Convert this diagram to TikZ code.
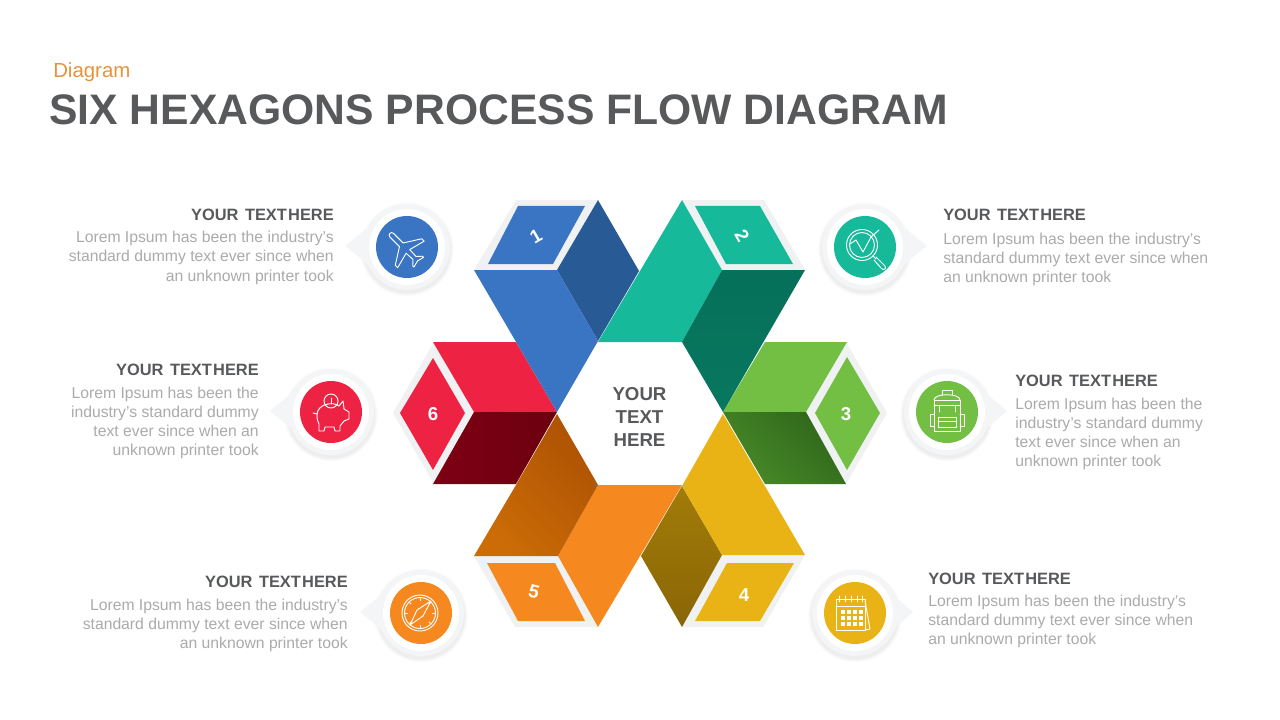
\documentclass[tikz,border=0pt]{standalone}
\usepackage{fontspec}
\setmainfont{Liberation Sans}
\usetikzlibrary{calc}
\definecolor{ttl}{HTML}{58595B}
\definecolor{bodyc}{HTML}{ABABAB}
\definecolor{orng}{HTML}{E8923A}
\definecolor{frm}{HTML}{F0F1F2}
\definecolor{bub}{HTML}{F4F5F6}
\definecolor{cb}{HTML}{3A75C4}\definecolor{cbd}{HTML}{285A96}
\definecolor{ct}{HTML}{16BA9B}\definecolor{ctd}{HTML}{06705A}\definecolor{ctf}{HTML}{08785F}
\definecolor{cg}{HTML}{72BF44}\definecolor{cgd}{HTML}{488A28}\definecolor{cgf}{HTML}{2F661A}
\definecolor{cy}{HTML}{EAB315}\definecolor{cyd}{HTML}{A17C08}\definecolor{cyf}{HTML}{8A6506}
\definecolor{co}{HTML}{F68820}\definecolor{cod}{HTML}{CB6C06}\definecolor{cof}{HTML}{AE5204}
\definecolor{cr}{HTML}{EE2344}\definecolor{crd}{HTML}{7E0014}\definecolor{crf}{HTML}{6C000F}
\tikzset{
 head/.style={font=\bfseries\fontsize{12.3}{14}\selectfont,text=ttl,inner sep=0pt},
 lorem/.style={font=\fontsize{11.8}{14}\selectfont,text=bodyc,inner sep=0pt},
 numlab/.style={font=\bfseries\fontsize{14}{16}\selectfont,text=white,inner sep=0pt},
 icon/.style={draw=white,line width=0.7pt,line join=round,line cap=round,fill=none}
}
\newcommand{\bubble}[4]{% cx, cy, tipx, colour
 \foreach \r/\o in {47/0.012,46/0.014,45/0.018,44/0.02}{\fill[black,opacity=\o] (#1,#2+2.5) circle (\r);}
 \fill[bub] (#1,#2) circle (43);
 \fill[bub] (#3,#2-1) -- ($(#1,#2-22)!0.58!(#3,#2-22)$) -- ($(#1,#2+20)!0.58!(#3,#2+20)$) -- cycle;
 \fill[white] (#1,#2) circle (38);
 \fill[#4] (#1,#2) circle (31);
}
\newcommand{\ytitle}{YOUR\hspace{1.5pt} TEXT\hspace{-2.5pt} HERE}
\begin{document}
\begin{tikzpicture}[x=0.75pt,y=-0.75pt]
\useasboundingbox (0,0) rectangle (1280,720);
\fill[white] (0,0) rectangle (1280,720);
% titles
\node[anchor=base west,text=orng,inner sep=0pt,font=\fontsize{15.3}{18}\selectfont] (sub) at (53,78) {Diagram};
\node[anchor=base west,text=ttl,inner sep=0pt,font=\bfseries\fontsize{32}{36}\selectfont] (title) at (49,125) {SIX HEXAGONS PROCESS FLOW DIAGRAM};
% frames
\fill[frm] (474,270)--(516,200)--(598,200)--(557,270)--cycle;
\fill[frm] (682,200)--(764,200)--(805,270)--(722,270)--cycle;
\fill[frm] (846,342)--(887,413)--(846,484)--(805,413)--cycle;
\fill[frm] (722,555)--(805,555)--(763,627)--(682,627)--cycle;
\fill[frm] (474,556)--(558,556)--(598,627)--(515,627)--cycle;
\fill[frm] (434,342)--(475,413)--(434,484)--(393,413)--cycle;
% inner faces
\fill[cb] (488,264)--(518,206)--(585,206)--(553,264)--cycle;
\fill[ct] (695,206)--(760,206)--(793,264)--(726,264)--cycle;
\fill[cg] (847,357)--(880,413)--(847,470)--(815,413)--cycle;
\fill[cy] (727,563)--(794,563)--(760,621)--(695,621)--cycle;
\fill[co] (487,563)--(555,563)--(585,621)--(518,621)--cycle;
\fill[cr] (433,358)--(465,413)--(433,470)--(400,413)--cycle;
% red
\fill[cr] (433,342)--(516,342)--(557,412)--(474,412)--cycle;
\shade[left color=crd,right color=crf] (474,412)--(557,412)--(516,484)--(433,484)--cycle;
% green
\fill[cg] (723,412)--(765,342)--(847,342)--(806,412)--cycle;
\shade[left color=cgd,right color=cgf,shading angle=135] (723,412)--(806,412)--(846,484)--(765,484)--cycle;
% blue
\fill[cbd] (598,200)--(639,271)--(598,341)--(557,270)--cycle;
\fill[cb] (474,270)--(557,270)--(598,341)--(557,412)--cycle;
% teal
\fill[ct] (682,200)--(722,270)--(682,342)--(598,342)--cycle;
\shade[top color=ctd,bottom color=ctf] (722,270)--(805,270)--(723,412)--(682,342)--cycle;
% yellow
\shade[top color=cyd,bottom color=cyf] (682,486)--(722,555)--(682,627)--(641,556)--cycle;
\fill[cy] (723,414)--(805,555)--(722,555)--(682,486)--cycle;
% orange
\fill[co] (598,485)--(682,485)--(598,627)--(558,556)--cycle;
\shade[left color=cod,right color=cof,shading angle=135] (557,414)--(598,485)--(558,556)--(474,556)--(516,485)--cycle;
% centre
\node[font=\bfseries\fontsize{14}{17}\selectfont,text=ttl,align=center,inner sep=0pt] (centre) at (639.5,417) {YOUR\\TEXT\\HERE};
% numbers
\node[numlab,rotate=30] (n1) at (536,236) {1};
\node[numlab,rotate=-60] (n2) at (742,236) {2};
\node[numlab] (n3) at (846,414) {3};
\node[numlab] (n4) at (744,595) {4};
\node[numlab,rotate=-15] (n5) at (534,592) {5};
\node[numlab] (n6) at (433,414) {6};
% bubbles
\bubble{407}{247}{345}{cb}
\bubble{865}{247}{927}{ct}
\bubble{331}{412}{270}{cr}
\bubble{947}{412}{1007}{cg}
\bubble{421}{613}{360}{co}
\bubble{855}{613}{913}{cy}
% plane
\begin{scope}[shift={(405.5,249)},rotate=45,scale=0.85]
\draw[icon] (-3,-23) .. controls (-3,-27) and (3,-27) .. (3,-23) -- (3,-7) -- (22,5) -- (22,9) -- (3,4) -- (2.5,15) -- (8,20) -- (8,22) -- (0,20) -- (-8,22) -- (-8,20) -- (-2.5,15) -- (-3,4) -- (-22,9) -- (-22,5) -- (-3,-7) -- cycle;
\end{scope}
% magnifier
\begin{scope}[shift={(862,245)}]
\draw[icon] (0,0) circle (15.5);
\draw[icon] (0,0) circle (12.5);
\draw[icon] (11,11) -- (14,14);
\draw[icon] (14,12) -- (23,21) .. controls (25,24) and (21,26) .. (19,23) -- (12,15);
\draw[icon] (-12,-1) -- (-6,-5) -- (1,7) -- (9,-8) -- (17,-15);
\end{scope}
% piggy
\begin{scope}[shift={(331,414)}]
\draw[icon] (-14,1) .. controls (-14,-10) and (2,-13) .. (8,-8) -- (12,-13) -- (13,-5) -- (18,-2) -- (18,5) -- (13,7) -- (9,12) -- (9,17) -- (4,17) -- (3,13) -- (-6,13) -- (-7,17) -- (-12,17) -- (-12,10) .. controls (-14,7) and (-14,4) .. (-14,1) -- cycle;
\draw[icon] (-14,0) -- (-18,-1);
\draw[icon] (0,-13) circle (7);
\draw[icon] (0,-16) -- (0,-10);
\end{scope}
% backpack
\begin{scope}[shift={(947,411)}]
\draw[icon] (-13,-11) rectangle (13,20);
\draw[icon] (-13,-11) .. controls (-13,-18) and (13,-18) .. (13,-11);
\draw[icon] (-5,-16) -- (-5,-21) -- (5,-21) -- (5,-16);
\draw[icon] (-13,-6) -- (13,-6);
\draw[icon] (-8,-6) -- (-8,1);
\draw[icon] (8,-6) -- (8,1);
\draw[icon] (-9,6) rectangle (9,16);
\draw[icon] (-9,10) -- (9,10);
\draw[icon] (-13,3) -- (-17,3) -- (-17,15) -- (-13,15);
\draw[icon] (13,3) -- (17,3) -- (17,15) -- (13,15);
\end{scope}
% compass
\begin{scope}[shift={(420,613)}]
\draw[icon] (0,0) circle (18);
\draw[icon] (0,0) circle (15.5);
\draw[icon] (11,-12) -- (3,3) -- (-10,12) -- (-3,-3) -- cycle;
\foreach \a in {0,45,...,315}{\draw[icon] (\a:12.5) -- (\a:14.5);}
\end{scope}
% calendar
\begin{scope}[shift={(851,613)}]
\draw[icon] (-15,-14) rectangle (14,17);
\draw[icon] (14,-12) -- (19,16) -- (14,17);
\draw[icon] (-15,-7) -- (14,-7);
\foreach \x in {-12,-6,0,6}{\draw[icon] (\x,-17) -- (\x,-11);}
\draw[icon] (11,-17) -- (11,-11);
\foreach \x in {-10,-4,2,8}{\foreach \y in {-3,3,9}{\fill[white] (\x,\y) rectangle ++(3.5,3.5);}}
\end{scope}
% text block TL
\node[head,anchor=base east] (h1) at (334,220) {\ytitle};
\node[lorem,anchor=base east] (a1) at (334,243) {Lorem Ipsum has been the industry's};
\node[lorem,anchor=base east] (a2) at (334,262) {standard dummy text ever since when};
\node[lorem,anchor=base east] (a3) at (334,281) {an unknown printer took};
% TR
\node[head,anchor=base west] (h2) at (943,221) {\ytitle};
\node[lorem,anchor=base west] (b1) at (943,244) {Lorem Ipsum has been the industry's};
\node[lorem,anchor=base west] (b2) at (943,263) {standard dummy text ever since when};
\node[lorem,anchor=base west] (b3) at (943,282) {an unknown printer took};
% ML
\node[head,anchor=base east] (h6) at (259,375) {\ytitle};
\node[lorem,anchor=base east] (c1) at (259,398) {Lorem Ipsum has been the};
\node[lorem,anchor=base east] (c2) at (259,417) {industry's standard dummy};
\node[lorem,anchor=base east] (c3) at (259,436) {text ever since when an};
\node[lorem,anchor=base east] (c4) at (259,455) {unknown printer took};
% MR
\node[head,anchor=base west] (h3) at (1015,386) {\ytitle};
\node[lorem,anchor=base west] (d1) at (1015,409) {Lorem Ipsum has been the};
\node[lorem,anchor=base west] (d2) at (1015,428) {industry's standard dummy};
\node[lorem,anchor=base west] (d3) at (1015,447) {text ever since when an};
\node[lorem,anchor=base west] (d4) at (1015,466) {unknown printer took};
% BL
\node[head,anchor=base east] (h5) at (348,587) {\ytitle};
\node[lorem,anchor=base east] (e1) at (348,610) {Lorem Ipsum has been the industry's};
\node[lorem,anchor=base east] (e2) at (348,629) {standard dummy text ever since when};
\node[lorem,anchor=base east] (e3) at (348,648) {an unknown printer took};
% BR
\node[head,anchor=base west] (h4) at (928,584) {\ytitle};
\node[lorem,anchor=base west] (f1) at (928,606) {Lorem Ipsum has been the industry's};
\node[lorem,anchor=base west] (f2) at (928,625) {standard dummy text ever since when};
\node[lorem,anchor=base west] (f3) at (928,644) {an unknown printer took};
\end{tikzpicture}
\end{document}
